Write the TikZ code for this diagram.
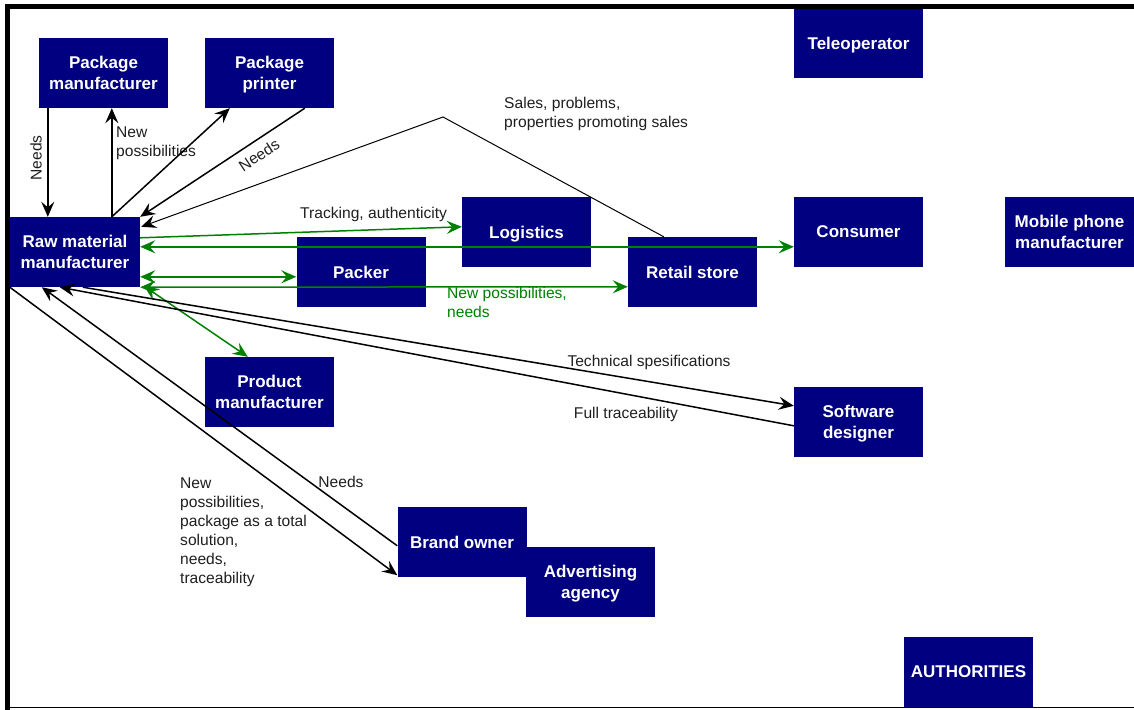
\documentclass[tikz,border=0pt]{standalone}
\usepackage{fontspec}
\setmainfont{Liberation Sans}
\usetikzlibrary{arrows.meta,calc}
\definecolor{boxblue}{RGB}{0,0,128}
\definecolor{linkgreen}{RGB}{0,128,0}
% last line of a box label: no descender depth, so boxes centre on the letters
\newcommand{\nodepth}[1]{\raisebox{0pt}[\height][0pt]{#1}}
\begin{document}
\begin{tikzpicture}[x=1pt,y=-1pt,
  >={Stealth[length=15pt,width=13pt,inset=5.5pt]},
  actor/.style={fill=boxblue, text=white, font=\bfseries\fontsize{17}{21}\selectfont,
    align=center, minimum width=129pt, minimum height=70pt, inner sep=0pt},
  lbl/.style={font=\fontsize{15.6}{19}\selectfont, text=black!88, inner sep=0pt, align=left},
  glbl/.style={lbl, text=linkgreen},
  link/.style={line width=1.5pt, draw=black},
  glink/.style={line width=1.5pt, draw=linkgreen},
  thinlink/.style={line width=1pt, draw=black}
]
\useasboundingbox (0,0) rectangle (1134,709);

% actors
\node[actor] (pm)        at (103.5,73)  {Package\\\nodepth{manufacturer}};
\node[actor] (pp)        at (269.5,73)  {Package\\\nodepth{printer}};
\node[actor, minimum width=130pt] (raw) at (75,252) {Raw material\\\nodepth{manufacturer}};
\node[actor] (packer)    at (361,272)   {Packer};
\node[actor] (logistics) at (526.5,232) {\nodepth{Logistics}};
\node[actor] (retail)    at (692.5,272) {Retail store};
\node[actor] (consumer)  at (858.5,232) {Consumer};
\node[actor] (tele)      at (858.5,43)  {\nodepth{Teleoperator}};
\node[actor] (mobile)    at (1069.5,232) {Mobile phone\\\nodepth{manufacturer}};
\node[actor] (product)   at (269.5,392) {Product\\\nodepth{manufacturer}};
\node[actor] (software)  at (858.5,422) {Software\\\nodepth{designer}};
\node[actor] (brand)     at (462,542)   {Brand owner};
\node[actor] (adv)       at (590.5,582) {Advertising\\\nodepth{agency}};
\node[actor] (auth)      at (968.5,672) {AUTHORITIES};

% package manufacturer / printer links
\draw[link,->] ($(pm.south west)+(9,0)$) -- ($(raw.north west)+(38,0)$);
\node[lbl, rotate=90] (lneeds1) at (36,158) {Needs};
\draw[link,->] ($(raw.north west)+(102,0)$) -- ($(pm.south west)+(73,0)$);
\node[lbl, anchor=west] (lnewp) at (116,143) {New\\possibilities};
\draw[link,->] ($(raw.north west)+(102,0)$) -- ($(pp.south west)+(25,0)$);
\draw[link,->] ($(pp.south west)+(100,0)$) -- (raw.north east);
\node[lbl, rotate=33.4] (lneeds2) at (259,155) {Needs};

% retail store feedback over the top
\coordinate (peak) at (443,117);
\draw[thinlink,->] ($(retail.north west)+(36,0)$) -- (peak) -- ($(raw.north east)+(1,10)$);
\node[lbl, anchor=west] (lsales) at (504,114) {Sales, problems,\\properties promoting sales};

% green flows
\draw[glink,->] ($(raw.north east)+(0,21)$) -- ($(logistics.north west)+(0,30)$);
\node[lbl, anchor=west] (ltrack) at (300,214) {Tracking, authenticity};
\draw[glink,<->] ($(raw.north east)+(0,30)$) -- ($(consumer.north west)+(0,50)$);
\draw[glink,<->] ($(raw.north east)+(0,60)$) -- ($(packer.north west)+(0,40)$);
\draw[glink,<->] (raw.south east) -- ($(retail.north west)+(0,50)$);
\node[glbl, anchor=west] (lnewg) at (447,302) {New possibilities,\\needs};
\draw[glink,<->] ($(raw.south east)+(4,-1)$) -- ($(product.north west)+(43,0)$);

% software designer
\draw[link,->] ($(raw.south west)+(73,0)$) -- ($(software.north west)+(0,19)$);
\node[lbl] (ltech) at (649,362) {Technical spesifications};
\draw[link,->] ($(software.north west)+(0,39)$) -- ($(raw.south west)+(50,0)$);
\node[lbl] (lfull) at (626,414) {Full traceability};

% brand owner
\draw[link,->] ($(brand.north west)+(0,39)$) -- ($(raw.south west)+(32,0)$);
\node[lbl] (lneeds3) at (341,482) {Needs};
\draw[link,->] (raw.south west) -- ($(brand.south west)+(0,-2)$);
\node[lbl, anchor=west] (lbrand) at (180,532.5) {New\\possibilities,\\package as a total\\solution,\\needs,\\traceability};

% frame
\draw[line width=5pt, miter limit=10] (7.5,712) -- (7.5,6.5) -- (1140,6.5);
\draw[line width=1.2pt] (5,707.8) -- (1140,707.8);
\end{tikzpicture}
\end{document}
